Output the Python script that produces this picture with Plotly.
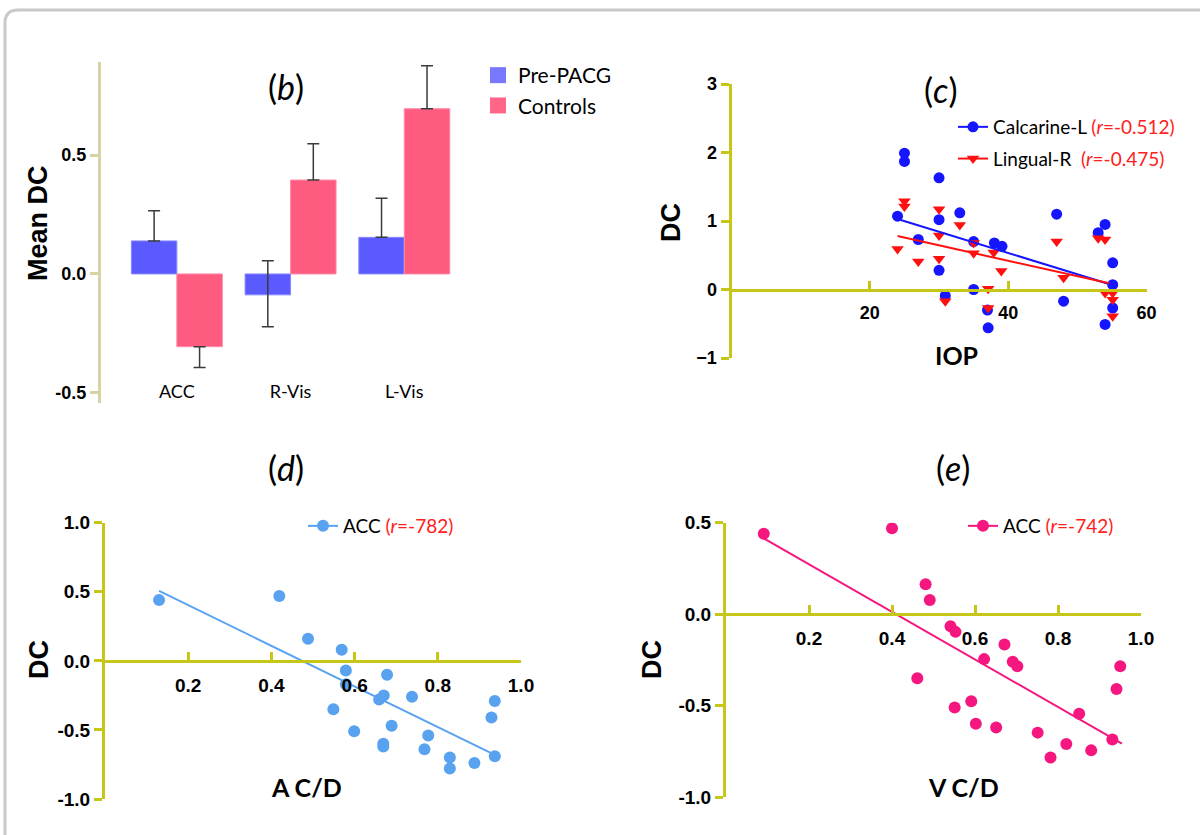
import plotly.graph_objects as go

W, H = 1200, 835

# ---------------- data ----------------
# panel b
regions = ["ACC", "R-Vis", "L-Vis"]
pre_vals = [0.139, -0.088, 0.154]
pre_err_plus = [0.127, 0.143, 0.164]
pre_err_minus = [0.0, 0.134, 0.0]
ctrl_vals = [-0.306, 0.395, 0.695]
ctrl_err_plus = [0.0, 0.153, 0.181]
ctrl_err_minus = [0.088, 0.0, 0.0]

# panel c
calc_iop = [25.0, 25.0, 24.0, 30.0, 30.0, 27.0, 30.0, 33.0, 30.9, 35.0, 35.0, 38.0,
            39.1, 37.0, 37.1, 47.0, 48.0, 53.0, 54.0, 55.1, 55.1, 55.1, 54.0]
calc_dc = [1.99, 1.87, 1.07, 1.63, 1.02, 0.73, 0.28, 1.12, -0.09, 0.70, 0.0, 0.68,
           0.63, -0.30, -0.56, 1.10, -0.17, 0.83, 0.95, 0.39, 0.07, -0.27, -0.51]
ling_iop = [25.0, 25.0, 24.0, 27.0, 30.0, 30.0, 30.0, 30.9, 33.0, 35.0, 35.0, 37.1,
            37.1, 37.9, 39.0, 47.0, 48.0, 53.0, 54.0, 54.0, 55.1, 55.1, 55.1]
ling_dc = [1.29, 1.21, 0.59, 0.41, 1.17, 0.79, 0.45, -0.17, 0.94, 0.68, 0.53, 0.01,
           -0.27, 0.54, 0.27, 0.70, 0.17, 0.75, 0.73, -0.05, -0.05, -0.15, -0.39]
calc_fit_x = [24.0, 54.9]
calc_fit_y = [1.03, 0.07]
ling_fit_x = [24.0, 54.6]
ling_fit_y = [0.78, 0.09]

# panel d
acd_x = [0.13, 0.419, 0.488, 0.569, 0.579, 0.579, 0.549, 0.599, 0.659, 0.67, 0.678, 0.689,
         0.669, 0.669, 0.738, 0.777, 0.768, 0.829, 0.829, 0.888, 0.929, 0.937, 0.937]
acd_dc = [0.44, 0.47, 0.16, 0.08, -0.07, -0.17, -0.35, -0.51, -0.28, -0.25, -0.10, -0.47,
          -0.60, -0.62, -0.26, -0.54, -0.64, -0.70, -0.78, -0.74, -0.41, -0.29, -0.69]
acd_fit_x = [0.13, 0.937]
acd_fit_y = [0.506, -0.68]

# panel e
vcd_x = [0.091, 0.40, 0.481, 0.491, 0.541, 0.553, 0.461, 0.551, 0.591, 0.602, 0.622, 0.651,
         0.671, 0.691, 0.702, 0.751, 0.782, 0.82, 0.851, 0.88, 0.931, 0.941, 0.95]
vcd_dc = [0.44, 0.47, 0.164, 0.077, -0.066, -0.097, -0.35, -0.51, -0.476, -0.60, -0.246, -0.62,
          -0.166, -0.26, -0.285, -0.648, -0.784, -0.71, -0.545, -0.745, -0.686, -0.41, -0.285]
vcd_fit_x = [0.091, 0.954]
vcd_fit_y = [0.414, -0.708]

# ---------------- helpers ----------------
def px(x):
    return x / W

def py(y):
    return 1 - y / H

AX_B = "#d6d4a2"
AX = "#c6c618"
TICKFONT = dict(family="Liberation Sans", size=18, color="black", weight="bold")

fig = go.Figure()

# ---------------- panel b ----------------
fig.add_trace(go.Bar(
    x=[0, 1, 2], y=pre_vals, name="Pre-PACG", xaxis="x", yaxis="y", showlegend=False,
    marker=dict(color="#5a5aff", line=dict(color="#8a8aff", width=1)),
    error_y=dict(type="data", symmetric=False, array=pre_err_plus, arrayminus=pre_err_minus,
                 color="#3a3a3a", thickness=1.5, width=6)))
fig.add_trace(go.Bar(
    x=[0, 1, 2], y=ctrl_vals, name="Controls", xaxis="x", yaxis="y", showlegend=False,
    marker=dict(color="#ff5a80", line=dict(color="#ff8aa6", width=1)),
    error_y=dict(type="data", symmetric=False, array=ctrl_err_plus, arrayminus=ctrl_err_minus,
                 color="#3a3a3a", thickness=1.5, width=6)))
# legend entries with larger square swatches
fig.add_trace(go.Scatter(x=[None], y=[None], mode="markers", name="Pre-PACG", xaxis="x", yaxis="y",
                         marker=dict(symbol="square", size=18, color="#7878ff"), legend="legend"))
fig.add_trace(go.Scatter(x=[None], y=[None], mode="markers", name="Controls", xaxis="x", yaxis="y",
                         marker=dict(symbol="square", size=18, color="#ff6688"), legend="legend"))

# ---------------- panel c ----------------
BLUE = "#1515ff"
RED = "#ff1010"
fig.add_trace(go.Scatter(x=calc_iop, y=calc_dc, mode="markers", xaxis="x2", yaxis="y2",
                         marker=dict(color=BLUE, size=11), showlegend=False))
fig.add_trace(go.Scatter(x=ling_iop, y=ling_dc, mode="markers", xaxis="x2", yaxis="y2",
                         marker=dict(color=RED, size=11, symbol="triangle-down"), showlegend=False))
fig.add_trace(go.Scatter(x=calc_fit_x, y=calc_fit_y, mode="lines", xaxis="x2", yaxis="y2",
                         line=dict(color=BLUE, width=2), showlegend=False))
fig.add_trace(go.Scatter(x=ling_fit_x, y=ling_fit_y, mode="lines", xaxis="x2", yaxis="y2",
                         line=dict(color=RED, width=2), showlegend=False))
fig.add_trace(go.Scatter(x=[None], y=[None], mode="lines+markers", xaxis="x2", yaxis="y2",
                         name="Calcarine-L <span style='color:#ff2020'>(<i>r</i>=-0.512)</span>",
                         marker=dict(color=BLUE, size=11), line=dict(color=BLUE, width=2),
                         legend="legend2", legendgroup="c1"))
fig.add_trace(go.Scatter(x=[None], y=[None], mode="lines+markers", xaxis="x2", yaxis="y2",
                         name="Lingual-R  <span style='color:#ff2020'>(<i>r</i>=-0.475)</span>",
                         marker=dict(color=RED, size=11, symbol="triangle-down"),
                         line=dict(color=RED, width=2),
                         legend="legend2", legendgroup="c2"))

# ---------------- panel d ----------------
LB = "#58a2f0"
fig.add_trace(go.Scatter(x=acd_x, y=acd_dc, mode="markers", xaxis="x3", yaxis="y3",
                         marker=dict(color=LB, size=12), showlegend=False))
fig.add_trace(go.Scatter(x=acd_fit_x, y=acd_fit_y, mode="lines", xaxis="x3", yaxis="y3",
                         line=dict(color=LB, width=2), showlegend=False))
fig.add_trace(go.Scatter(x=[None], y=[None], mode="lines+markers", xaxis="x3", yaxis="y3",
                         name="ACC <span style='color:#ff2020'>(<i>r</i>=-782)</span>",
                         marker=dict(color=LB, size=12), line=dict(color=LB, width=2),
                         legend="legend3"))

# ---------------- panel e ----------------
PK = "#f5167f"
fig.add_trace(go.Scatter(x=vcd_x, y=vcd_dc, mode="markers", xaxis="x4", yaxis="y4",
                         marker=dict(color=PK, size=12), showlegend=False))
fig.add_trace(go.Scatter(x=vcd_fit_x, y=vcd_fit_y, mode="lines", xaxis="x4", yaxis="y4",
                         line=dict(color=PK, width=2), showlegend=False))
fig.add_trace(go.Scatter(x=[None], y=[None], mode="lines+markers", xaxis="x4", yaxis="y4",
                         name="ACC <span style='color:#ff2020'>(<i>r</i>=-742)</span>",
                         marker=dict(color=PK, size=12), line=dict(color=PK, width=2),
                         legend="legend4"))

# ---------------- axes ----------------
def zero_pos(dom_top_px, dom_bot_px, rng):
    # paper position of value 0 on a y axis
    y0, y1 = py(dom_bot_px), py(dom_top_px)
    return y0 + (0 - rng[0]) / (rng[1] - rng[0]) * (y1 - y0)

b_rng = [-0.543, 0.893]
c_rng = [-1, 3]
d_rng = [-1, 1]
e_rng = [-1, 0.5]

common = dict(automargin=False, showgrid=False, zeroline=False, fixedrange=True)

layout_axes = dict(
    # panel b
    xaxis=dict(common, domain=[px(101), px(518)], range=[-0.667, 3.0], anchor="free",
               position=py(379), tickvals=[0, 1, 2], ticktext=regions, showline=False,
               ticks="", tickfont=dict(family="Lato", size=18, color="black")),
    yaxis=dict(common, domain=[py(403), py(61.7)], range=b_rng, anchor="x",
               showline=True, linecolor=AX_B, linewidth=3, tickvals=[-0.5, 0, 0.5],
               ticktext=["-0.5", "0.0", "0.5"],
               ticks="outside", ticklen=8, tickwidth=3, tickcolor=AX_B, tickfont=TICKFONT),
    # panel c
    xaxis2=dict(common, domain=[px(731.5), px(1146.6)], range=[0, 60], anchor="free",
                position=zero_pos(84, 358, c_rng), showline=True, linecolor=AX, linewidth=3,
                tickvals=[20, 40, 60], ticks="inside",
                ticklen=8, tickwidth=3, tickcolor=AX, tickfont=TICKFONT, ticklabelstandoff=6),
    yaxis2=dict(common, domain=[py(358), py(84)], range=c_rng, anchor="x2", showline=True,
                linecolor=AX, linewidth=3,
                tickvals=[-1, 0, 1, 2, 3], ticks="outside", ticklen=8, tickwidth=3,
                tickcolor=AX, tickfont=TICKFONT),
    # panel d
    xaxis3=dict(common, domain=[px(105), px(521)], range=[0, 1], anchor="free",
                position=zero_pos(522.7, 799, d_rng), showline=True, linecolor=AX, linewidth=3,
                tickvals=[0.2, 0.4, 0.6, 0.8, 1.0],
                ticktext=["0.2", "0.4", "0.6", "0.8", "1.0"], ticks="inside", ticklen=8,
                tickwidth=3, tickcolor=AX, tickfont=dict(TICKFONT, size=19), ticklabelstandoff=6),
    yaxis3=dict(common, domain=[py(799), py(522.7)], range=d_rng, anchor="x3", showline=True,
                linecolor=AX, linewidth=3,
                tickvals=[-1, -0.5, 0, 0.5, 1], ticktext=["-1.0", "-0.5", "0.0", "0.5", "1.0"],
                ticks="outside", ticklen=8, tickwidth=3, tickcolor=AX,
                tickfont=dict(TICKFONT, size=19)),
    # panel e
    xaxis4=dict(common, domain=[px(726), px(1141)], range=[0, 1], anchor="free",
                position=zero_pos(522.7, 797, e_rng), showline=True, linecolor=AX, linewidth=3,
                tickvals=[0.2, 0.4, 0.6, 0.8, 1.0],
                ticktext=["0.2", "0.4", "0.6", "0.8", "1.0"], ticks="inside", ticklen=8,
                tickwidth=3, tickcolor=AX, tickfont=dict(TICKFONT, size=19), ticklabelstandoff=6),
    yaxis4=dict(common, domain=[py(797), py(522.7)], range=e_rng, anchor="x4", showline=True,
                linecolor=AX, linewidth=3,
                tickvals=[-1, -0.5, 0, 0.5], ticktext=["-1.0", "-0.5", "0.0", "0.5"],
                ticks="outside", ticklen=8, tickwidth=3, tickcolor=AX,
                tickfont=dict(TICKFONT, size=19)),
)

# ---------------- annotations ----------------
def ann(text, x, y, size, family="Lato", angle=0, weight="normal"):
    return dict(text=text, x=px(x), y=py(y), xref="paper", yref="paper", showarrow=False,
                xanchor="center", yanchor="middle", textangle=angle,
                font=dict(family=family, size=size, color="black", weight=weight))

annotations = [
    ann("(<i>b</i>)", 286, 87, 34),
    ann("(<i>c</i>)", 941, 90, 34),
    ann("(<i>d</i>)", 286, 467, 34),
    ann("(<i>e</i>)", 953, 467, 34),
    ann("Mean DC", 38, 223, 27, family="Liberation Sans", angle=-90, weight="bold"),
    ann("DC", 671, 223, 27, family="Liberation Sans", angle=-90, weight="bold"),
    ann("DC", 39, 660, 27, family="Liberation Sans", angle=-90, weight="bold"),
    ann("DC", 652, 660, 27, family="Liberation Sans", angle=-90, weight="bold"),
    ann("IOP", 956, 355, 25, weight="bold"),
    ann("A C/D", 306, 787, 25, weight="bold"),
    ann("V C/D", 963, 787, 25, weight="bold"),
]

legend_common = dict(bgcolor="rgba(0,0,0,0)", borderwidth=0, xanchor="left", yanchor="top",
                     itemclick=False, itemdoubleclick=False, itemsizing="trace")

fig.update_layout(
    width=W, height=H, autosize=False,
    margin=dict(l=0, r=0, t=0, b=0, pad=0, autoexpand=False),
    paper_bgcolor="white", plot_bgcolor="white",
    barmode="group", bargap=0.2, bargroupgap=0.0,
    annotations=annotations,
    legend=dict(legend_common, x=px(478), y=py(55), font=dict(family="Lato", size=21, color="black")),
    legend2=dict(legend_common, x=px(953), y=py(108), font=dict(family="Lato", size=19, color="black"),
                 tracegroupgap=4),
    legend3=dict(legend_common, x=px(303), y=py(507), font=dict(family="Lato", size=19, color="black")),
    legend4=dict(legend_common, x=px(963), y=py(507), font=dict(family="Lato", size=19, color="black")),
    shapes=[dict(type="path", xref="paper", yref="paper",
                 path=f"M {px(1215)},{py(10)} L {px(18)},{py(10)} Q {px(5)},{py(10)} {px(5)},{py(23)} L {px(5)},{py(850)}",
                 line=dict(color="#c9c9c9", width=3))],
    **layout_axes,
)

fig.write_html("out.html", config={"displayModeBar": False},
               post_script="document.body.style.margin='0';document.body.style.overflow='hidden';")
